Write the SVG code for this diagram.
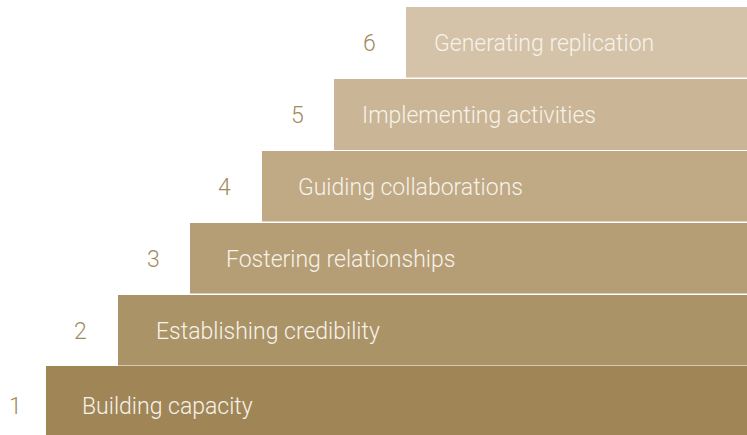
<svg xmlns="http://www.w3.org/2000/svg" width="747" height="435" viewBox="0 0 747 435">
<style>
.lbl{font-family:Roboto,"Liberation Sans",Arial,sans-serif;font-weight:300;font-size:23px;fill:#f7f2ea}
.num{font-family:Roboto,"Liberation Sans",Arial,sans-serif;font-weight:300;font-size:23px;fill:#a38a5e}
</style>
<rect width="747" height="435" fill="#ffffff"/>
<g id="step6"><rect x="406" y="7" width="341" height="70.5" fill="#d4c2a9"/><text class="num" x="363" y="51">6</text><text class="lbl" x="434" y="51">Generating replication</text></g>
<g id="step5"><rect x="334" y="79" width="413" height="71" fill="#cab696"/><text class="num" x="291" y="123">5</text><text class="lbl" x="362" y="123">Implementing activities</text></g>
<g id="step4"><rect x="262" y="151" width="485" height="70.5" fill="#c0a985"/><text class="num" x="218" y="195">4</text><text class="lbl" x="298" y="195">Guiding collaborations</text></g>
<g id="step3"><rect x="190" y="223" width="557" height="70.5" fill="#b59e76"/><text class="num" x="147" y="267">3</text><text class="lbl" x="226" y="267">Fostering relationships</text></g>
<g id="step2"><rect x="118" y="295" width="629" height="70.5" fill="#ab9368"/><text class="num" x="74" y="339">2</text><text class="lbl" x="156" y="339">Establishing credibility</text></g>
<g id="step1"><rect x="46" y="366" width="701" height="69" fill="#a08657"/><text class="num" x="9" y="414">1</text><text class="lbl" x="82" y="414">Building capacity</text></g>
<g id="connectors"></g>
</svg>
